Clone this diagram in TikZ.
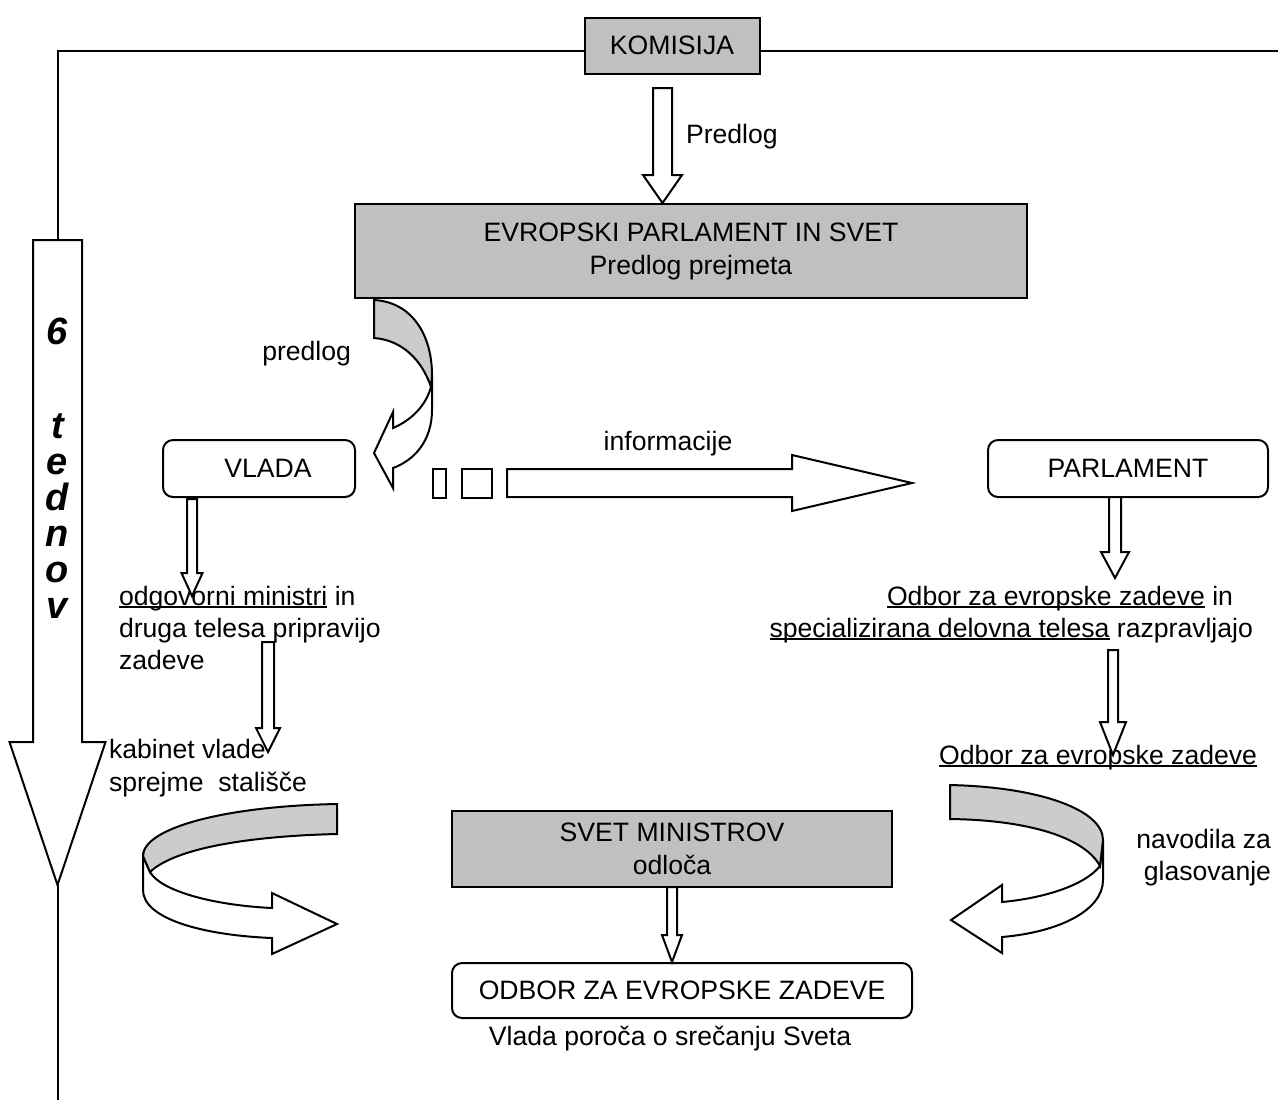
\documentclass[tikz,border=0pt]{standalone}
\usepackage{fontspec}
\setmainfont{Liberation Sans}
\usetikzlibrary{positioning}
\definecolor{boxgray}{RGB}{192,192,192}
\definecolor{bandgray}{RGB}{204,204,204}
\tikzset{>=latex}
\newcommand{\tx}{\fontsize{13.3}{16.5}\selectfont}
\newcommand{\uln}[1]{\setbox0\hbox{#1}\rlap{\rule[-1.6pt]{\wd0}{0.9pt}}\box0\relax}
\tikzstyle{graybox} = [draw, fill=boxgray, line width=1pt, inner sep=0, align=center]
\tikzstyle{roundbox} = [draw, rounded corners=5pt, line width=1pt, inner sep=0, align=center]
\tikzstyle{block} = [draw, fill=white, line width=1pt, line join=miter]
\tikzstyle{band} = [draw, fill=bandgray, line width=1pt]
\tikzstyle{lbl} = [draw=none, inner sep=0]
% x, top, head base, tip, half shaft, half head
\newcommand{\blockdown}[6]{\draw [block] (#1-#5,#2) -- (#1+#5,#2) -- (#1+#5,#3) -- (#1+#6,#3) -- (#1,#4) -- (#1-#6,#3) -- (#1-#5,#3) -- cycle;}

\begin{document}
\begin{tikzpicture}[x=0.5pt, y=-0.5pt, font=\tx, line width=1pt]
\useasboundingbox (0,0) rectangle (1278,1100);
\node [graybox, minimum width=87.5pt, minimum height=28pt] (kom) at (672,45.5) {KOMISIJA};
\node [graybox, minimum width=336pt, minimum height=47pt] (ep) at (691,251) {EVROPSKI PARLAMENT IN SVET\\Predlog prejmeta};
\node [roundbox, minimum width=96pt, minimum height=28.5pt] (vlada) at (259,468.5) {\hspace*{9pt}VLADA};
\node [roundbox, minimum width=140pt, minimum height=28.5pt] (parl) at (1128,468.5) {PARLAMENT};
\node [graybox, minimum width=220pt, minimum height=38pt] (svet) at (672,849) {SVET MINISTROV\\odloča};
\node [roundbox, minimum width=230pt, minimum height=27.5pt] (odbor) at (682,990.5) {ODBOR ZA EVROPSKE ZADEVE};
\node [block, inner sep=0, minimum width=6.5pt, minimum height=14.5pt] (sq1) at (439,483) {};
\node [block, inner sep=0, minimum width=15pt, minimum height=14.5pt] (sq2) at (477,483) {};

% labels
\node [lbl, anchor=base west] (pred) at (685,143) {Predlog};
\node [lbl, anchor=base east] (pred2) at (352,360) {predlog};
\node [lbl, anchor=base] (info) at (668,450) {informacije};
\node [lbl, anchor=base west] (odg1) at (118,605) {\uln{odgovorni ministri} in};
\node [lbl, anchor=base west] (odg2) at (118,637) {druga telesa pripravijo};
\node [lbl, anchor=base west] (odg3) at (118,669) {zadeve};
\node [lbl, anchor=base west] (kab1) at (108,758) {kabinet vlade};
\node [lbl, anchor=base west] (kab2) at (108,791) {sprejme\ \ stališče};
\node [lbl, anchor=base east] (raz1) at (1234,605) {\uln{Odbor za evropske zadeve} in};
\node [lbl, anchor=base east] (raz2) at (1254,637) {\uln{specializirana delovna telesa} razpravljajo};
\node [lbl, anchor=base east] (oez) at (1258,764) {\uln{Odbor za evropske zadeve}};
\node [lbl, anchor=base east] (nav1) at (1272,848) {navodila za};
\node [lbl, anchor=base east] (nav2) at (1272,880) {glasovanje};
\node [lbl, anchor=base] (por) at (670,1045) {Vlada poroča o srečanju Sveta};

% time line with the big arrow
\coordinate (tl) at (57.5,51);
\coordinate (tr) at (1278,51);
\coordinate (bl) at (57.5,1100);
\draw (kom.west |- tl) -- (tl) -- (57.5,240);
\draw (kom.east |- tr) -- (tr);
\blockdown{57.5}{240}{742}{885}{24.5}{48}
\draw (57.5,885) -- (bl);
\node [lbl, anchor=north, align=center, font=\fontsize{19}{18}\selectfont\bfseries\itshape] (weeks) at (57.5,317) {6\\[29pt]t\\e\\d\\n\\o\\v};

% straight block arrows
\blockdown{662.5}{88}{175}{203}{9.5}{19.5}
\blockdown{192}{499}{573}{596}{5}{10.5}
\blockdown{268}{642}{728}{752}{6}{12}
\blockdown{1115}{497}{552}{578}{6}{14}
\blockdown{1113}{650}{722}{755}{5}{13}
\blockdown{672}{887}{935}{962}{5}{10}
\draw [block] (507,469) -- (792,469) -- (792,455) -- (912,483) -- (792,511) -- (792,497) -- (507,497) -- cycle;

% curved arrow under the parliament box
\draw [block] (431,387) -- (432,375) -- (432,410) .. controls (432,440) and (415,460) .. (393,468) -- (393,488) -- (374,453) -- (393,412) -- (393,428) .. controls (412,420) and (426,405) .. (431,387) -- cycle;
\draw [band] (374,300) .. controls (412,302) and (432,335) .. (432,375) -- (431,387) .. controls (422,360) and (402,340) .. (374,338) -- cycle;

% curved arrow on the left
\draw [block] (143,856) -- (143,890) .. controls (143,918) and (200,935) .. (272,938) -- (272,954) -- (337,924) -- (272,893) -- (272,908) .. controls (210,905) and (160,890) .. (150,872) -- cycle;
\draw [band] (337,804) .. controls (225,806) and (143,828) .. (143,856) -- (150,872) .. controls (175,848) and (250,836) .. (337,834) -- cycle;

% curved arrow on the right
\draw [block] (1103,840) -- (1103,880) .. controls (1103,910) and (1060,932) .. (1002,937) -- (1002,953) -- (951,920) -- (1002,885) -- (1002,902) .. controls (1045,898) and (1085,885) .. (1100,866) -- cycle;
\draw [band] (950,785) .. controls (1040,787) and (1103,810) .. (1103,840) -- (1100,866) .. controls (1085,838) and (1030,820) .. (950,819) -- cycle;
\end{tikzpicture}
\end{document}
